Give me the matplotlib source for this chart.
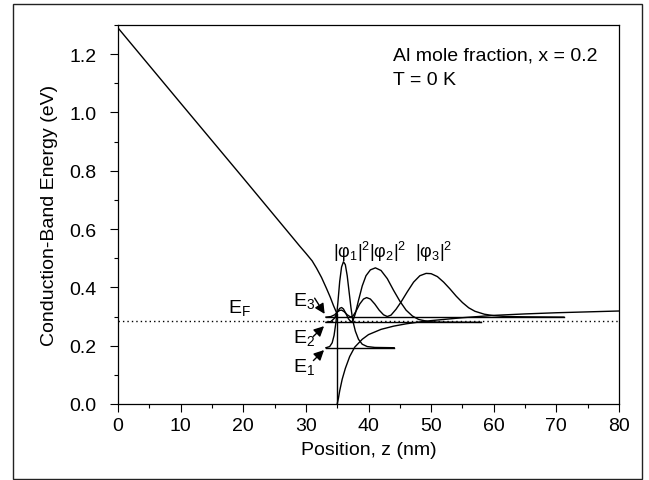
import matplotlib
matplotlib.use("Agg")
import matplotlib.pyplot as plt
from matplotlib.patches import Rectangle
from matplotlib.ticker import MultipleLocator

plt.rcParams['font.family'] = ['Liberation Sans', 'DejaVu Sans']
plt.rcParams['mathtext.fontset'] = 'custom'
plt.rcParams['mathtext.rm'] = 'Liberation Sans'
plt.rcParams['mathtext.it'] = 'Liberation Sans'
plt.rcParams['mathtext.bf'] = 'Liberation Sans'

# Conduction band profile (barrier side, z < 35 nm)
band_left_z = [0, 10, 20, 28, 29, 30, 31, 31.7, 32.5, 33.3, 33.9, 34.4, 35.0]
band_left_E = [1.29, 1.032, 0.775, 0.568, 0.542, 0.517, 0.491, 0.466, 0.434, 0.396, 0.366, 0.338, 0.308]
# Vertical band offset at interface
offset_z = [35.0, 35.0]
offset_E = [0.308, 0.0]
# Conduction band profile (well side, z > 35 nm)
band_right_z = [35.0, 35.2, 35.4, 35.8, 36.3, 37.0, 37.8, 39.0, 40.0, 42.0, 44.0, 46.0, 48.0, 50.0, 55.0, 60.0, 65.0, 70.0, 75.0, 80.0]
band_right_E = [0.0, 0.02, 0.045, 0.085, 0.122, 0.163, 0.195, 0.222, 0.238, 0.256, 0.267, 0.275, 0.281, 0.286, 0.296, 0.304, 0.309, 0.313, 0.316, 0.319]

# Subband energies (eV) and line extents (nm)
levels_E = [0.193, 0.280, 0.298]
levels_z0 = [33.2, 33.2, 33.2]
levels_z1 = [44.1, 58.0, 71.2]
fermi_E = 0.284

# |phi|^2 curves drawn on their subband baselines
phi1_z = [33.2, 33.8, 34.2, 34.5, 34.8, 35.1, 35.4, 35.7, 36.0, 36.3, 36.6, 36.9, 37.2, 37.5, 37.9, 38.4, 39.0, 39.8, 41.0, 44.1]
phi1_E = [0.193, 0.197, 0.21, 0.235, 0.28, 0.345, 0.42, 0.47, 0.488, 0.478, 0.44, 0.385, 0.33, 0.285, 0.25, 0.222, 0.205, 0.197, 0.194, 0.193]

phi2_z = [33.2, 34.0, 34.6, 35.0, 35.4, 35.7, 36.0, 36.4, 36.8, 37.2, 37.5, 37.9, 38.4, 39.0, 39.6, 40.3, 41.1, 42.0, 43.0, 44.0, 45.0, 46.0, 47.0, 48.0, 49.5, 51.0, 58.0]
phi2_E = [0.28, 0.283, 0.295, 0.315, 0.328, 0.331, 0.326, 0.31, 0.292, 0.282, 0.285, 0.31, 0.355, 0.405, 0.44, 0.46, 0.467, 0.458, 0.43, 0.39, 0.353, 0.322, 0.302, 0.29, 0.283, 0.281, 0.28]

phi3_z = [33.2, 34.0, 34.6, 35.0, 35.4, 35.7, 36.1, 36.6, 37.1, 37.5, 38.0, 38.6, 39.2, 39.7, 40.3, 41.0, 41.7, 42.4, 43.0, 43.6, 44.4, 45.2, 46.2, 47.2, 48.2, 49.2, 50.0, 51.0, 52.0, 53.0, 54.0, 55.0, 56.0, 57.0, 58.5, 60.0, 62.0, 65.0, 71.2]
phi3_E = [0.298, 0.300, 0.306, 0.315, 0.321, 0.322, 0.317, 0.306, 0.299, 0.301, 0.318, 0.343, 0.36, 0.365, 0.36, 0.343, 0.322, 0.306, 0.300, 0.305, 0.325, 0.35, 0.385, 0.418, 0.440, 0.448, 0.447, 0.437, 0.418, 0.395, 0.37, 0.348, 0.33, 0.318, 0.308, 0.303, 0.300, 0.299, 0.298]

xticks = [0, 10, 20, 30, 40, 50, 60, 70, 80]
yticks = [0.0, 0.2, 0.4, 0.6, 0.8, 1.0, 1.2]

fig = plt.figure(figsize=(6.49, 4.81), dpi=100)
ax = fig.add_axes([118/649, 1-405/481, 501/649, 379/481])

lw = 1.0
kw = dict(color='black', lw=lw, solid_joinstyle='round')
ax.plot(band_left_z, band_left_E, **kw)
ax.plot(offset_z, offset_E, **kw)
ax.plot(band_right_z, band_right_E, **kw)
for E, z0, z1 in zip(levels_E, levels_z0, levels_z1):
    ax.plot([z0, z1], [E, E], **kw)
ax.plot(phi1_z, phi1_E, **kw)
ax.plot(phi2_z, phi2_E, **kw)
ax.plot(phi3_z, phi3_E, **kw)
ax.plot([0, 80], [fermi_E, fermi_E], color='black', lw=1.0, linestyle=(0, (1, 2.2)))

ax.set_xlim(0, 80)
ax.set_ylim(0, 1.3)
ax.set_xticks(xticks)
ax.set_yticks(yticks)
ax.set_yticklabels([f"{v:.1f}" for v in yticks])
ax.xaxis.set_minor_locator(MultipleLocator(5))
ax.yaxis.set_minor_locator(MultipleLocator(0.1))
ax.tick_params(which='both', direction='out', top=False, right=False, width=0.8, labelsize=14)
ax.tick_params(which='major', length=5.5)
ax.tick_params(which='minor', length=3)
ax.tick_params(axis='x', pad=4)
ax.tick_params(axis='y', pad=10)
for s in ax.spines.values():
    s.set_linewidth(0.9)

ax.set_xlabel('Position, z (nm)', fontsize=14, labelpad=5)
ax.set_ylabel('Conduction-Band Energy (eV)', fontsize=14, labelpad=8)

fs = 14
ax.text(43.9, 1.18, 'Al mole fraction, x = 0.2', fontsize=fs, ha='left', va='baseline')
ax.text(43.9, 1.096, 'T = 0 K', fontsize=fs, ha='left', va='baseline')

ax.text(17.5, 0.316, r'$\mathrm{E_F}$', fontsize=fs, ha='left', va='baseline')
ax.text(27.9, 0.340, r'$\mathrm{E_3}$', fontsize=fs, ha='left', va='baseline')
ax.text(27.9, 0.214, r'$\mathrm{E_2}$', fontsize=fs, ha='left', va='baseline')
ax.text(27.9, 0.113, r'$\mathrm{E_1}$', fontsize=fs, ha='left', va='baseline')

pfs = 13
ax.text(34.3, 0.504, r'$\mathrm{|φ_1|^2}$', fontsize=pfs, ha='left', va='baseline')
ax.text(40.1, 0.504, r'$\mathrm{|φ_2|^2}$', fontsize=pfs, ha='left', va='baseline')
ax.text(47.4, 0.504, r'$\mathrm{|φ_3|^2}$', fontsize=pfs, ha='left', va='baseline')

arrow = dict(arrowstyle='-|>', color='black', lw=1.0, mutation_scale=15, shrinkA=0, shrinkB=0)
ax.annotate('', xy=(33.0, 0.309), xytext=(31.4, 0.363), arrowprops=arrow)
ax.annotate('', xy=(32.9, 0.267), xytext=(31.2, 0.232), arrowprops=arrow)
ax.annotate('', xy=(32.9, 0.185), xytext=(31.2, 0.149), arrowprops=arrow)

fig.patches.append(Rectangle((13/649, 1-480/481), 629/649, 475/481, transform=fig.transFigure,
                             fill=False, edgecolor='#222222', lw=1.0))

fig.savefig('out.png', dpi=100)
